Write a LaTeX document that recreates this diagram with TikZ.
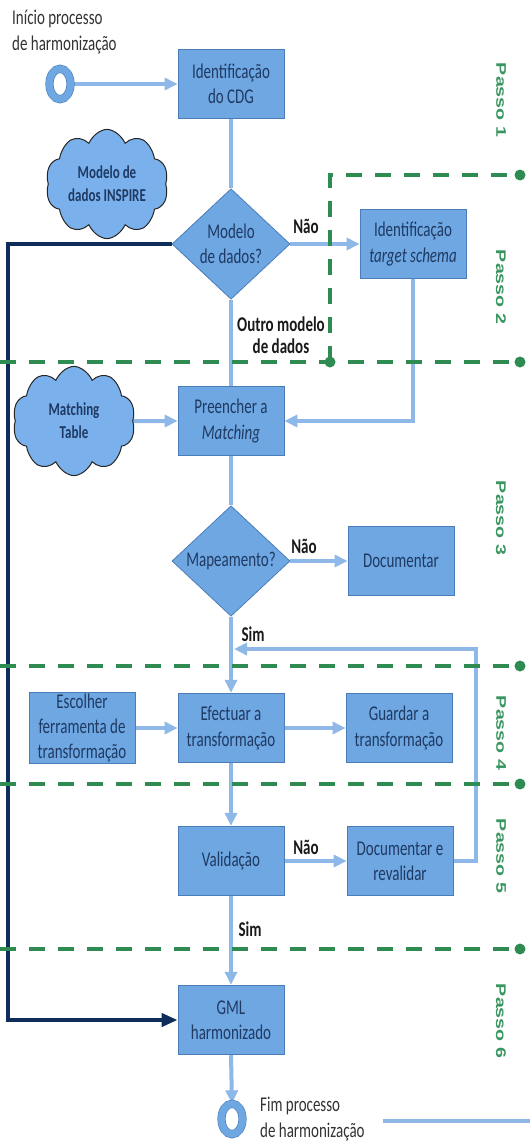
\documentclass[tikz,border=0pt]{standalone}
\usepackage{fontspec}
\setmainfont{Carlito}
\newfontfamily\passofont{Liberation Sans}
\usetikzlibrary{shapes.geometric,shapes.symbols,arrows.meta}
\pgfdeclarelayer{bgl}
\pgfdeclarelayer{connl}
\pgfdeclarelayer{sepl}
\pgfsetlayers{bgl,connl,sepl,main}
\definecolor{boxfill}{HTML}{6EA7E2}
\definecolor{boxline}{HTML}{4A7DB8}
\definecolor{connc}{HTML}{8DB8E8}
\definecolor{cloudfill}{HTML}{7AB1EC}
\definecolor{ringc}{HTML}{6EA7E2}
\definecolor{ringedge}{HTML}{4A7DB8}
\definecolor{navy}{HTML}{0E2D5A}
\definecolor{txt}{HTML}{1F3A63}
\definecolor{grn}{HTML}{2E8B52}
\definecolor{grntxt}{HTML}{3A9660}
\newcommand\myboxfont{\fontsize{15}{18}\selectfont}
\newcommand\mycloudfont{\bfseries\fontsize{13}{16.5}\selectfont}
\newcommand\mylblfont{\bfseries\fontsize{15}{16}\selectfont}
\newcommand\mypassofont{\passofont\bfseries\fontsize{14}{17}\selectfont}
\tikzset{
 proc/.style={rectangle, draw=boxline, line width=0.8pt, fill=boxfill, text=txt, font=\myboxfont, align=center, minimum width=106pt, minimum height=49.5pt, inner sep=1pt, yscale=1.4},
 dec/.style={diamond, draw=boxline, line width=0.8pt, fill=boxfill, text=txt, font=\myboxfont, align=center, aspect=1.5, minimum width=118pt, minimum height=79pt, inner sep=0pt, yscale=1.4},
 cloudn/.style={cloud, cloud puffs=10, cloud puff arc=115, cloud ignores aspect, draw=black!85, line width=1pt, fill=cloudfill, text=txt, font=\mycloudfont, align=center, minimum width=122pt, minimum height=78pt, inner sep=0pt, yscale=1.4},
 ring/.style={circle, draw=ringedge, line width=0.6pt, double=ringc, double distance=7pt, fill=white, minimum size=21pt, inner sep=0pt, yscale=1.45},
 lbl/.style={font=\mylblfont, text=black!90, inner sep=0pt, yscale=1.4, align=center},
 txtlbl/.style={font=\myboxfont, text=black!80, inner sep=0pt, yscale=1.4, align=left},
 passo/.style={font=\mypassofont, text=grntxt, inner sep=0pt, yscale=1.4, rotate=-90},
 dot/.style={circle, fill=grn, minimum size=11pt, inner sep=0pt},
 sep/.style={draw=grn, line width=4.5pt, dash pattern=on 16pt off 13pt},
 conn/.style={draw=connc, line width=4pt},
 arr/.style={conn, -{Triangle[length=13pt,width=12pt]}},
 navyarr/.style={draw=navy, line width=4.5pt, -{Triangle[length=16pt,width=13pt]}}
}
\begin{document}
\begin{tikzpicture}[x=1pt,y=-1pt]
\begin{pgfonlayer}{bgl}
\fill[white] (0,0) rectangle (530,1143);
\end{pgfonlayer}
\useasboundingbox (0,0) rectangle (530,1143);

% texts
\node[txtlbl, anchor=west] (t1) at (12,32) {Início processo\\de harmonização};
\node[txtlbl, anchor=west] (t2) at (260,1119) {Fim processo\\de harmonização};

% nodes
\node[ring] (start) at (60,84) {};
\node[proc] (cdg) at (231,84) {Identificação\\do CDG};
\node[cloudn] (c1) at (107,184) {Modelo de\\dados INSPIRE};
\node[dec] (d1) at (231,244) {Modelo\\de dados?};
\node[proc] (ts) at (413,244) {Identificação\\\textit{target schema}};
\node[proc] (pre) at (231,421) {Preencher a\\\textit{Matching}};
\node[cloudn] (c2) at (74,421) {Matching\\Table};
\node[dec] (d2) at (231,561) {Mapeamento?};
\node[proc] (doc) at (401,561) {Documentar};
\node[proc] (esc) at (82,728) {Escolher\\ferramenta de\\transformação};
\node[proc] (efe) at (231,728) {Efectuar a\\transformação};
\node[proc] (gua) at (399,728) {Guardar a\\transformação};
\node[proc] (val) at (231,861) {Validação};
\node[proc] (rev) at (400,861) {Documentar e\\revalidar};
\node[proc] (gml) at (231,1020) {GML\\harmonizado};
\node[ring] (end) at (232,1119) {};

% labels
\node[lbl] (n1) at (306,226) {Não};
\node[lbl] (n2) at (304,546) {Não};
\node[lbl] (n3) at (306,847) {Não};
\node[lbl] (s1) at (253,634) {Sim};
\node[lbl] (s2) at (250,929) {Sim};
\node[lbl] (om) at (281,335) {Outro modelo\\de dados};

% passo labels
\node[passo] (ps1) at (501,100) {Passo 1};
\node[passo] (ps2) at (501,287) {Passo 2};
\node[passo] (ps3) at (501,518) {Passo 3};
\node[passo] (ps4) at (501,733) {Passo 4};
\node[passo] (ps5) at (501,856) {Passo 5};
\node[passo] (ps6) at (501,1021) {Passo 6};

% separator dots
\node[dot] (p1) at (520,175) {};
\node[dot] (p2a) at (330,362) {};
\node[dot] (p2b) at (520,362) {};
\node[dot] (p3) at (520,666) {};
\node[dot] (p4) at (520,784) {};
\node[dot] (p5) at (520,949) {};
\coordinate (corner) at (330,175);
\coordinate (q2) at (0,362);
\coordinate (q3) at (0,666);
\coordinate (q4) at (0,784);
\coordinate (q5) at (0,949);

\begin{pgfonlayer}{sepl}
\draw[sep] (p2a.center) -- (corner) -- (p1.center);
\draw[sep] (q2) -- (p2b.center);
\draw[sep] (q3) -- (p3.center);
\draw[sep] (q4) -- (p4.center);
\draw[sep] (q5) -- (p5.center);
\end{pgfonlayer}

% connectors
\coordinate (nv) at (8,244);
\coordinate (lp) at (476,649);
\coordinate (ret) at (234,649);
\coordinate (l1) at (383,1121);
\coordinate (l2) at (530,1121);
\begin{pgfonlayer}{connl}
\draw[arr] (start.east) -- (cdg.west);
\draw[conn] (cdg.south) -- (d1.north);
\draw[arr] (d1.east) -- (ts.west);
\draw[conn] (d1.south) -- (pre.north);
\draw[arr] (ts.south) |- (pre.east);
\draw[arr] (c2.east) -- (pre.west);
\draw[conn] (pre.south) -- (d2.north);
\draw[arr] (d2.east) -- (doc.west);
\draw[arr] (d2.south) -- (efe.north);
\draw[arr] (esc.east) -- (efe.west);
\draw[arr] (efe.east) -- (gua.west);
\draw[arr] (efe.south) -- (val.north);
\draw[arr] (val.east) -- (rev.west);
\draw[arr] (rev.east) -| (lp) -- (ret);
\draw[arr] (val.south) -- (gml.north);
\draw[arr] (gml.south) -- (end.north);
\draw[navyarr] (d1.west) -- (nv) |- (gml.west);
\draw[conn] (l1) -- (l2);
\end{pgfonlayer}
\end{tikzpicture}
\end{document}
